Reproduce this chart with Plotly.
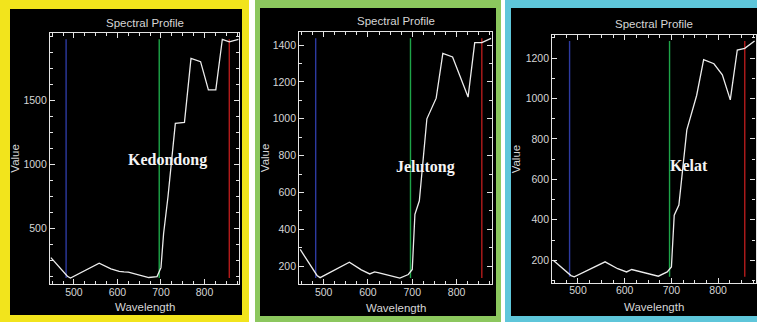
import plotly.graph_objects as go

# Band centres (nm) shared by the three spectral profiles
wavelength = [447, 485, 492, 558, 585, 604, 615, 625, 672, 691, 700, 706,
              716, 733, 754, 769, 791, 809, 826, 841, 857, 878]

# Profile values per tree species
kedondong = [274, 128, 114, 230, 186, 166, 162, 160, 118, 125, 195, 460,
             745, 1323, 1330, 1831, 1805, 1584, 1584, 1980, 1960, 1980]
jelutong = [291, 150, 138, 222, 180, 158, 169, 164, 136, 155, 182, 482,
            555, 1000, 1112, 1355, 1336, 1225, 1118, 1413, 1413, 1437]
kelat = [200, 124, 118, 192, 158, 142, 154, 148, 121, 142, 167, 423,
         473, 845, 1015, 1192, 1172, 1117, 993, 1240, 1248, 1285]

species = ["Kedondong", "Jelutong", "Kelat"]
profiles = [kedondong, jelutong, kelat]

# Axis tick values
x_ticks = [500, 600, 700, 800]
y_ticks = [
    [500, 1000, 1500],
    [200, 400, 600, 800, 1000, 1200, 1400],
    [200, 400, 600, 800, 1000, 1200],
]
y_minor = [125, 100, 100]

# Display band markers (blue, green, red)
band_marks = [482, 696, 857]
band_colors = ["#2d3aa0", "#1ea448", "#b41c1c"]

W, H = 757, 322


def px(x):
    return x / W


def py(y):
    return 1 - y / H


# Panel frames in pixels: outer border, inner black area, plot box
panels = [
    dict(outer=(0, 0, 249, 322), inner=(10, 9, 242, 315),
         box=(50, 33.3, 239.3, 284), color="#f2e41c",
         title_y=23, xlab_y=307, vlab_x=15, name_xy=(167.5, 160)),
    dict(outer=(255, 0, 501, 322), inner=(260, 8, 496, 316),
         box=(299.3, 32.3, 492, 284), color="#8cc75e",
         title_y=21, xlab_y=308, vlab_x=265, name_xy=(425, 167)),
    dict(outer=(505, 0, 760, 322), inner=(511, 8, 760, 316),
         box=(552.3, 35, 755.5, 282.7), color="#5ec6da",
         title_y=24, xlab_y=307, vlab_x=515.5, name_xy=(688.5, 165)),
]

fg = "#e4e4e4"
sans = "Liberation Sans, Arial, sans-serif"
tick_font = dict(family=sans, size=10.5, color="#d6d6d6")
label_font = dict(family=sans, size=11.5, color="#d6d6d6")
name_font = dict(family="Liberation Serif, Times New Roman, serif", size=16, color="#f4f4f4")

fig = go.Figure()
shapes = []
annotations = []
layout_axes = {}

for i, (p, vals) in enumerate(zip(panels, profiles)):
    sfx = "" if i == 0 else str(i + 1)
    xa, ya = "x" + sfx, "y" + sfx
    lo, hi = min(vals), max(vals)
    pad = 0.025 * (hi - lo)

    # band marker lines spanning the profile's value range
    for wl, col in zip(band_marks, band_colors):
        fig.add_trace(go.Scatter(x=[wl, wl], y=[lo, hi], mode="lines",
                                 line=dict(color=col, width=1.4),
                                 xaxis=xa, yaxis=ya, showlegend=False,
                                 hoverinfo="skip"))
    # spectral profile
    fig.add_trace(go.Scatter(x=wavelength, y=vals, mode="lines",
                             line=dict(color="#ececec", width=1.3),
                             xaxis=xa, yaxis=ya, showlegend=False,
                             name=species[i]))

    x0, y0, x1, y1 = p["box"]
    common = dict(showline=True, linecolor=fg, linewidth=1.3, mirror="allticks",
                  ticks="inside", ticklen=5, tickwidth=1.1, tickcolor=fg,
                  showgrid=False, zeroline=False, tickfont=tick_font,
                  tickmode="array", fixedrange=True)
    layout_axes["xaxis" + sfx] = dict(
        common, domain=[px(x0), px(x1)], range=[445, 880], tickvals=x_ticks,
        anchor=ya, ticklabelstandoff=-2,
        minor=dict(tickmode="linear", tick0=0, dtick=25, ticks="inside",
                   ticklen=3, tickcolor=fg, showgrid=False))
    layout_axes["yaxis" + sfx] = dict(
        common, domain=[py(y1), py(y0)], range=[lo - pad, hi + pad],
        tickvals=y_ticks[i], anchor=xa,
        minor=dict(tickmode="linear", tick0=0, dtick=y_minor[i], ticks="inside",
                   ticklen=3, tickcolor=fg, showgrid=False))

    # coloured frame and black panel
    ox0, oy0, ox1, oy1 = p["outer"]
    shapes.append(dict(type="rect", xref="paper", yref="paper", layer="below",
                       x0=px(ox0), x1=px(ox1), y0=py(oy1), y1=py(oy0),
                       fillcolor=p["color"], line=dict(width=0)))
    ix0, iy0, ix1, iy1 = p["inner"]
    shapes.append(dict(type="rect", xref="paper", yref="paper", layer="below",
                       x0=px(ix0), x1=px(ix1), y0=py(iy1), y1=py(iy0),
                       fillcolor="black", line=dict(width=0)))

    cx = (x0 + x1) / 2
    annotations.append(dict(text="Spectral Profile", x=px(cx), y=py(p["title_y"]),
                            xref="paper", yref="paper", showarrow=False,
                            font=label_font, xanchor="center", yanchor="middle"))
    annotations.append(dict(text="Wavelength", x=px(cx), y=py(p["xlab_y"]),
                            xref="paper", yref="paper", showarrow=False,
                            font=label_font, xanchor="center", yanchor="middle"))
    annotations.append(dict(text="Value", x=px(p["vlab_x"]), y=py((y0 + y1) / 2),
                            xref="paper", yref="paper", showarrow=False,
                            textangle=-90, font=label_font,
                            xanchor="center", yanchor="middle"))
    nx, ny = p["name_xy"]
    annotations.append(dict(text="<b>%s</b>" % species[i], x=px(nx), y=py(ny),
                            xref="paper", yref="paper", showarrow=False,
                            font=name_font, xanchor="center", yanchor="middle"))

fig.update_layout(
    width=W, height=H, margin=dict(l=0, r=0, t=0, b=0),
    paper_bgcolor="white", plot_bgcolor="black",
    shapes=shapes, annotations=annotations, **layout_axes,
)

fig.write_html("out.html")
